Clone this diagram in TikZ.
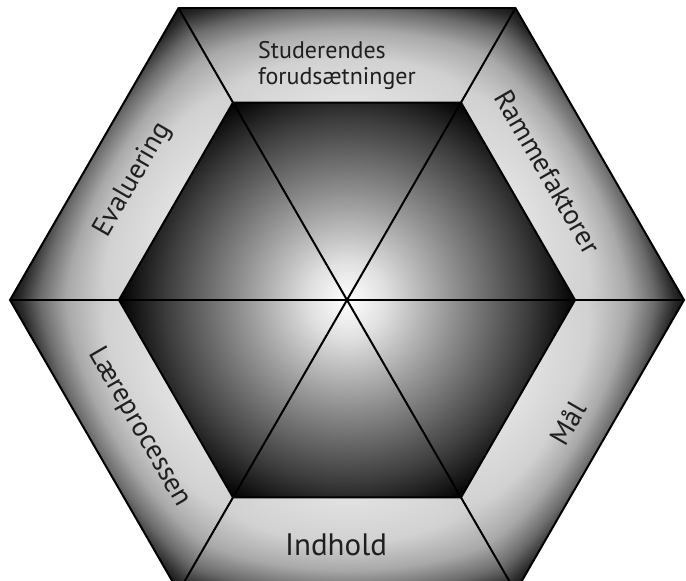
\documentclass[tikz,border=0pt]{standalone}
\usepackage{fontspec}
\setmainfont{PT Sans}
\definecolor{txt}{gray}{0.12}
\definecolor{ga}{gray}{0.9}
\definecolor{gb}{gray}{0.82}
\definecolor{gc}{gray}{0.66}
\definecolor{gd}{gray}{0.42}
\definecolor{ge}{gray}{0.16}
\definecolor{ha}{gray}{0.88}
\definecolor{hb}{gray}{0.55}
\definecolor{hc}{gray}{0.24}
\pgfdeclareradialshading{ringsh}{\pgfpoint{0bp}{0bp}}{color(0bp)=(ga); color(24bp)=(gb); color(36bp)=(gc); color(45bp)=(gd); color(52bp)=(ge); color(59bp)=(black); color(100bp)=(black)}
\pgfdeclareradialshading{coresh}{\pgfpoint{0bp}{0bp}}{color(0bp)=(white); color(38bp)=(ha); color(110bp)=(hb); color(180bp)=(hc); color(228bp)=(black); color(260bp)=(black)}
\tikzset{
  edge/.style={line width=2pt, black, line join=miter},
  lbl/.style={text=txt, font=\fontsize{28}{30}\selectfont, inner sep=0pt}
}
\begin{document}
\begin{tikzpicture}[x=1pt,y=1pt]
\useasboundingbox (0,0) rectangle (686,581);
\fill[white] (0,0) rectangle (686,581);
\clip (0,0) rectangle (686,581);
\begin{scope}[shift={(347,281)}]
  \foreach \k in {0,...,5} {
    \coordinate (O\k) at (60*\k:337);
    \coordinate (I\k) at (60*\k:228);
  }
  % ring segments
  \foreach \k in {0,...,5} {
    \pgfmathtruncatemacro\kn{mod(\k+1,6)}
    \begin{scope}
      \clip (O\k) -- (O\kn) -- (I\kn) -- (I\k) -- cycle;
      \begin{scope}[rotate=60*\k-60, shift={(0,187)}, xscale=265/50, yscale=115/50]
        \pgflowlevelsynccm
        \pgfuseshading{ringsh}
      \end{scope}
    \end{scope}
  }
  % core
  \begin{scope}
    \clip (I0) -- (I1) -- (I2) -- (I3) -- (I4) -- (I5) -- cycle;
    \begin{scope}
      \pgflowlevelsynccm
      \pgfuseshading{coresh}
    \end{scope}
  \end{scope}
  % lines
  \draw[edge] (O0) -- (O1) -- (O2) -- (O3) -- (O4) -- (O5) -- cycle;
  \draw[edge] (I0) -- (I1) -- (I2) -- (I3) -- (I4) -- (I5) -- cycle;
  \draw[edge] (O0) -- (O3);
  \draw[edge] (O1) -- (O4);
  \draw[edge] (O2) -- (O5);
  % labels
  \node[lbl, align=left, font=\fontsize{24}{26}\selectfont] (stud) at (-10,234) {Studerendes\\forudsætninger};
  \node[lbl, rotate=-60] (ramme) at (201,128) {Rammefaktorer};
  \node[lbl, rotate=60] (eval) at (-214,120) {Evaluering};
  \node[lbl, rotate=-60] (laere) at (-208,-127) {Læreprocessen};
  \node[lbl, rotate=60] (maal) at (221,-123) {Mål};
  \node[lbl, font=\fontsize{31}{33}\selectfont] (indh) at (-11,-245) {Indhold};
\end{scope}
\end{tikzpicture}
\end{document}
